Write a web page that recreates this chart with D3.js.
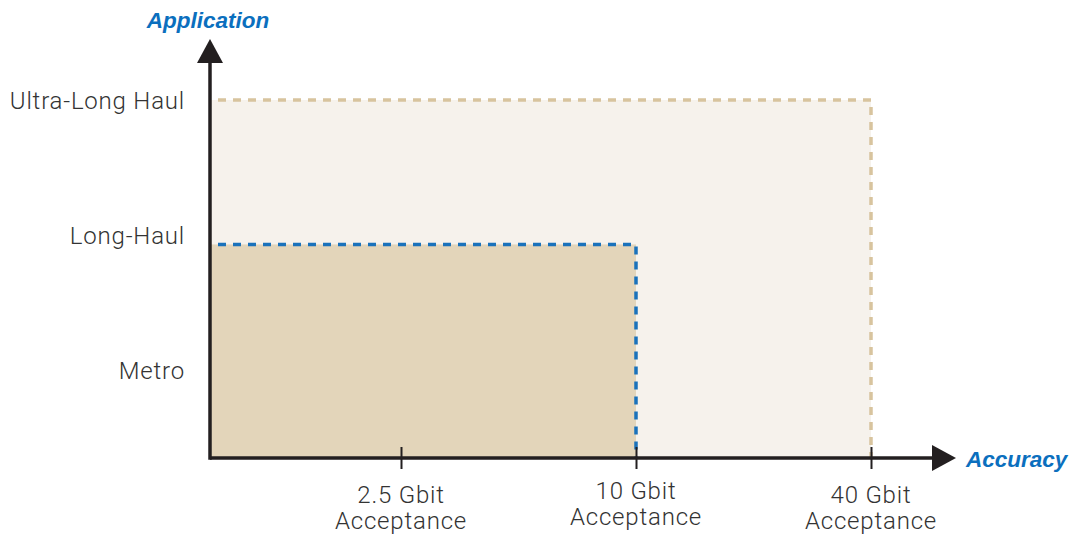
<!DOCTYPE html>
<html><head><meta charset="utf-8">
<script src="https://cdn.jsdelivr.net/npm/d3@7"></script>
<style>body{margin:0;background:#fff}svg{display:block}</style>
</head><body><svg id="c" width="1071" height="535"></svg>
<script>
// ---- data ----
const xCategories = ["2.5 Gbit\nAcceptance", "10 Gbit\nAcceptance", "40 Gbit\nAcceptance"];
const xCatIndex = [1, 2, 3];
const yCategories = ["Metro", "Long-Haul", "Ultra-Long Haul"];
const yCatIndex = [1, 2, 3];
// zones: extent along accuracy (x index) and application (y index)
const zoneNames = ["Ultra-Long Haul zone", "Long-Haul zone"];
const zoneX = [3, 2];
const zoneY = [3, 1.93];
const zoneFill = ["#f6f2ec", "#e3d5ba"];
const zoneStroke = ["#d8c49e", "#1a72bb"];

const svg = d3.select("#c");
const x = d3.scaleLinear().domain([0, 3]).range([166, 871]);
const y = d3.scaleLinear().domain([0, 3]).range([505, 100]);
const x0 = 210, y0 = 458;
const axisColor = "#231f20";
const labelFont = "Roboto, 'Liberation Sans', sans-serif";
const fs = 24, ls = 0.8;

// zones
zoneNames.forEach((n, i) => {
  svg.append("rect")
    .attr("x", x0).attr("y", y(zoneY[i]))
    .attr("width", x(zoneX[i]) - x0).attr("height", y0 - y(zoneY[i]))
    .attr("fill", zoneFill[i]);
});
zoneNames.forEach((n, i) => {
  svg.append("path")
    .attr("d", d3.line()([[x0 + 1, y(zoneY[i])], [x(zoneX[i]), y(zoneY[i])], [x(zoneX[i]), y0]]))
    .attr("fill", "none").attr("stroke", zoneStroke[i])
    .attr("stroke-width", 3.5).attr("stroke-dasharray", "8,7")
    .attr("stroke-dashoffset", -7);
});

// x axis
const xAxis = d3.axisBottom(x).tickValues(xCatIndex).tickSize(11).tickFormat("");
const gx = svg.append("g").attr("transform", `translate(0,${y0})`).call(xAxis);
gx.select(".domain").remove();
gx.selectAll(".tick line").attr("y1", -11).attr("stroke", axisColor).attr("stroke-width", 2);
svg.append("line").attr("x1", x0).attr("x2", 935).attr("y1", y0).attr("y2", y0)
  .attr("stroke", axisColor).attr("stroke-width", 3.5);
svg.append("path").attr("d", `M932,${y0-13}L956,${y0}L932,${y0+13}Z`).attr("fill", axisColor);

// y axis
const yAxis = d3.axisLeft(y).tickValues(yCatIndex).tickSize(0).tickPadding(25)
  .tickFormat((d, i) => yCategories[i]);
const gy = svg.append("g").attr("transform", `translate(${x0},0)`).call(yAxis);
gy.select(".domain").remove();
gy.selectAll(".tick text").attr("font-family", labelFont).attr("font-weight", 300)
  .attr("font-size", fs).attr("letter-spacing", ls).attr("fill", "#333").attr("dy", "0.35em");
svg.append("line").attr("x1", x0).attr("x2", x0).attr("y1", y0 + 1.75).attr("y2", 60)
  .attr("stroke", axisColor).attr("stroke-width", 3.5);
svg.append("path").attr("d", `M${x0-13},63L${x0},39L${x0+13},63Z`).attr("fill", axisColor);

// x tick labels (two lines)
const yShift = [0, -4, 0];
xCategories.forEach((c, i) => {
  const t = svg.append("text").attr("x", x(xCatIndex[i])).attr("y", 503 + yShift[i])
    .attr("text-anchor", "middle").attr("font-family", labelFont).attr("font-weight", 300)
    .attr("font-size", fs).attr("letter-spacing", ls).attr("fill", "#333");
  c.split("\n").forEach((l, j) => {
    t.append("tspan").attr("x", x(xCatIndex[i])).attr("dy", j ? 26 : 0).text(l);
  });
});

// axis titles
svg.append("text").attr("x", 208).attr("y", 28).attr("text-anchor", "middle")
  .attr("font-family", "'Liberation Sans', Arial, sans-serif").attr("font-weight", "bold")
  .attr("font-style", "italic").attr("font-size", 22.5).attr("fill", "#0b6fbe").text("Application");
svg.append("text").attr("x", 966).attr("y", 467).attr("text-anchor", "start")
  .attr("font-family", "'Liberation Sans', Arial, sans-serif").attr("font-weight", "bold")
  .attr("font-style", "italic").attr("font-size", 22.5).attr("fill", "#0b6fbe").text("Accuracy");
</script></body></html>
